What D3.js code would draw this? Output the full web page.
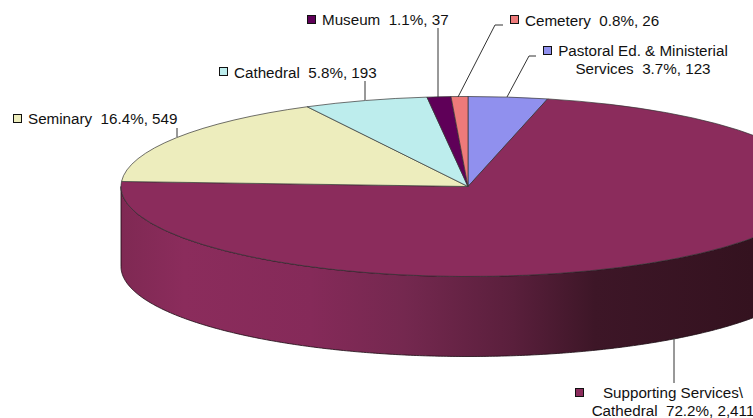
<!DOCTYPE html>
<html><head><meta charset="utf-8">
<style>html,body{margin:0;padding:0;background:#fff;overflow:hidden}svg{display:block}text{font-family:"Liberation Sans",Arial,sans-serif;font-size:15.2px;fill:#111;white-space:pre}</style>
<script src="https://cdn.jsdelivr.net/npm/d3@7"></script></head><body><svg id="c" width="753" height="418"></svg>
<script>
const categories=["Pastoral Ed. & Ministerial Services","Supporting Services\\ Cathedral","Seminary","Cathedral","Museum","Cemetery"];
const values=[123,2411,549,193,37,26];
const colors=["#9090ee","#8b2c5c","#ededbd","#bdeded","#5f0058","#ee7a7a"];
const labelLines=[["Pastoral Ed. & Ministerial","Services  3.7%, 123"],["Supporting Services\\","Cathedral  72.2%, 2,411"],["Seminary  16.4%, 549"],["Cathedral  5.8%, 193"],["Museum  1.1%, 37"],["Cemetery  0.8%, 26"]];
const labelX=[643,673,28,234,322,525];
const labelY=[56,398,124,78,25,26];
const swatchX=[543,575,13,219,307,510];
const swatchY=[46,388,114,67,15,15];
const leaders=[[[507,97],[529,56],[536,56]],[[674,338],[674,383]],[[177,137],[177,128]],[[365,100],[365,81]],[[438,97],[438,28]],[[458,97],[495,25],[503,25]]];
const cx=468,cy=186.5,rx=347,ry=90,depth=80;
const svg=d3.select("#c");
const arcs=d3.pie().value(d=>d).sort(null)(values);
const arc=d3.arc().innerRadius(0).outerRadius(rx);
const yScale=d3.scaleLinear().domain([-rx,rx]).range([cy-ry,cy+ry]);
const ex=a=>cx+rx*Math.sin(a), ey=a=>yScale(-rx*Math.cos(a));
const grad=svg.append("defs").append("linearGradient").attr("id","side").attr("gradientUnits","userSpaceOnUse").attr("x1",121).attr("x2",753).attr("y1",0).attr("y2",0);
[[0,"#7f2953"],[0.1,"#8b2c5c"],[0.3,"#852a59"],[0.45,"#74284f"],[0.62,"#5a1f3c"],[0.75,"#3d1627"],[1,"#34121f"]].forEach(s=>grad.append("stop").attr("offset",s[0]).attr("stop-color",s[1]));
const angles=d3.range(Math.PI/2,Math.PI*1.5+0.001,Math.PI/360);
const front=d3.line().x(ex).y(ey)(angles);
const back=d3.line().x(ex).y(a=>ey(a)+depth)(angles.slice().reverse());
svg.append("path").attr("d",front+"L"+back.slice(1)+"Z").attr("fill","url(#side)").attr("stroke","#1a0a12").attr("stroke-width",.8);
svg.append("g").attr("transform",`translate(${cx},${cy}) scale(1,${ry/rx})`).selectAll("path").data(arcs).join("path")
 .attr("d",arc).attr("fill",(d,i)=>colors[i]).attr("stroke","#333").attr("stroke-width",.7).attr("vector-effect","non-scaling-stroke");
svg.append("g").selectAll("path").data(leaders).join("path").attr("d",d=>d3.line()(d)).attr("fill","none").attr("stroke","#333").attr("stroke-width",1);
svg.append("g").selectAll("rect").data(categories).join("rect").attr("x",(d,i)=>swatchX[i]+.5).attr("y",(d,i)=>swatchY[i]+.5).attr("width",8).attr("height",8).attr("fill",(d,i)=>colors[i]).attr("stroke","#111").attr("stroke-width",1);
labelLines.forEach((ls,i)=>{
 ls.forEach((t,j)=>{
  svg.append("text").attr("x",labelX[i]).attr("y",labelY[i]+j*18).attr("text-anchor",ls.length>1?"middle":"start").text(t);
 });
});
</script></body></html>
